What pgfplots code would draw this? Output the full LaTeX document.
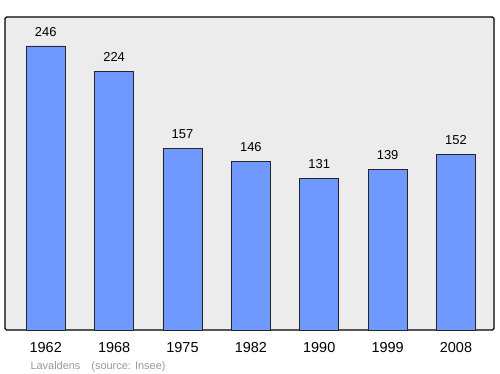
\documentclass[border=0pt]{standalone}
\usepackage{pgfplots}
\pgfplotsset{compat=1.18}
\usepackage{fontspec}
\setmainfont{Liberation Sans}
\definecolor{barfill}{HTML}{7099FF}
\definecolor{bgfill}{HTML}{ECECEC}
\begin{document}
\begin{tikzpicture}[x=1bp,y=1bp]
\begin{axis}[
  scale only axis,
  width=489bp, height=313bp,
  xmin=-0.596, xmax=6.556,
  ymin=0, ymax=271.1,
  axis background/.style={fill=bgfill},
  axis line style={line width=1.2bp, black, rounded corners=1.5bp},
  ytick=\empty,
  xtick={0,1,2,3,4,5,6},
  xticklabels={1962,1968,1975,1982,1990,1999,2008},
  major tick length=0pt,
  xticklabel style={font=\fontsize{14.5}{16}\selectfont, yshift=-9bp},
  ybar, bar width=39bp,
  nodes near coords,
  /pgf/number format/assume math mode=true,
  every node near coord/.append style={font=\fontsize{13}{15}\selectfont, yshift=6bp},
  clip=false,
]
\addplot[fill=barfill, draw=black!85, line width=0.9bp] coordinates {
(0,246) (1,224) (2,157) (3,146) (4,131) (5,139) (6,152)};
\end{axis}
\node[anchor=west, text=black!40, font=\fontsize{11}{13}\selectfont] at ([xshift=22bp,yshift=-37bp]current axis.south west) {Lavaldens\quad(source: Insee)};
\pgfresetboundingbox
\path ([xshift=-5bp,yshift=-44bp]current axis.south west) rectangle ([xshift=6bp,yshift=17bp]current axis.north east);
\end{tikzpicture}
\end{document}
